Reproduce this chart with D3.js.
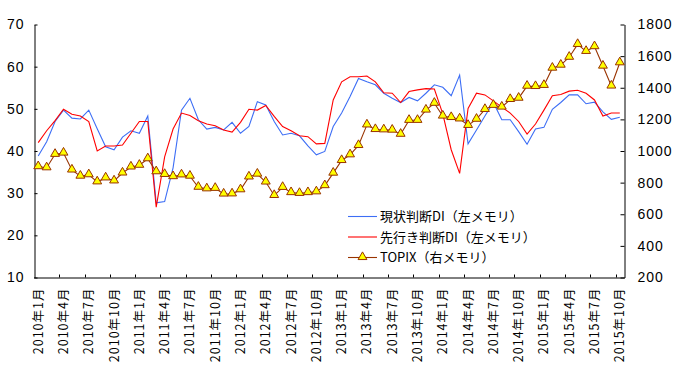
<!DOCTYPE html>
<html>
<head>
<meta charset="utf-8">
<script src="https://cdn.jsdelivr.net/npm/d3@7"></script>
<style>
  body { margin: 0; background: #fff; }
  svg { display: block; font-family: "Noto Sans CJK JP", "Noto Sans", sans-serif; }
  .axis path, .axis line { stroke: #000; }
</style>
</head>
<body>
<svg width="677" height="369"></svg>
<script>
// months, 2010年1月 .. 2015年10月
var months = [
  '2010年1月','2010年2月','2010年3月','2010年4月','2010年5月','2010年6月','2010年7月','2010年8月','2010年9月','2010年10月','2010年11月','2010年12月',
  '2011年1月','2011年2月','2011年3月','2011年4月','2011年5月','2011年6月','2011年7月','2011年8月','2011年9月','2011年10月','2011年11月','2011年12月',
  '2012年1月','2012年2月','2012年3月','2012年4月','2012年5月','2012年6月','2012年7月','2012年8月','2012年9月','2012年10月','2012年11月','2012年12月',
  '2013年1月','2013年2月','2013年3月','2013年4月','2013年5月','2013年6月','2013年7月','2013年8月','2013年9月','2013年10月','2013年11月','2013年12月',
  '2014年1月','2014年2月','2014年3月','2014年4月','2014年5月','2014年6月','2014年7月','2014年8月','2014年9月','2014年10月','2014年11月','2014年12月',
  '2015年1月','2015年2月','2015年3月','2015年4月','2015年5月','2015年6月','2015年7月','2015年8月','2015年9月','2015年10月'
];

// 現状判断DI (left)
var currentDI = [
  38.8, 42.2, 47.0, 49.7, 47.8, 47.6, 49.7, 45.3, 41.0, 40.3, 43.3, 44.8,
  44.2, 48.3, 27.7, 28.0, 36.0, 49.7, 52.5, 47.4, 45.2, 45.6, 45.0, 46.8,
  44.2, 45.8, 51.7, 50.9, 47.0, 43.8, 44.2, 43.6, 41.2, 39.1, 39.9, 45.8,
  49.0, 52.9, 57.2, 56.4, 55.7, 53.7, 52.5, 51.5, 52.7, 51.9, 53.7, 55.7,
  55.1, 53.1, 58.0, 41.7, 45.0, 48.3, 51.5, 47.4, 47.4, 44.6, 41.6, 45.2,
  45.6, 49.9, 51.5, 53.3, 53.3, 51.2, 51.6, 49.3, 47.5, 48.0
];

// 先行き判断DI (left)
var futureDI = [
  42.0, 44.8, 47.2, 49.9, 48.7, 48.3, 47.0, 40.0, 41.2, 41.2, 41.4, 44.2,
  47.0, 47.0, 26.7, 38.6, 45.2, 49.0, 48.4, 47.2, 46.4, 46.0, 45.0, 44.5,
  46.8, 49.9, 49.7, 50.8, 48.2, 45.8, 44.8, 43.6, 43.4, 41.7, 41.8, 52.1,
  56.4, 57.6, 57.6, 57.8, 56.4, 53.8, 53.7, 51.5, 54.1, 54.5, 54.8, 54.7,
  48.8, 40.3, 34.7, 50.1, 53.7, 53.3, 51.9, 50.4, 49.0, 47.0, 44.0, 46.4,
  49.7, 53.1, 53.4, 54.2, 54.4, 53.7, 52.1, 48.3, 49.0, 49.0
];

// TOPIX (right)
var topix = [
  901, 894, 979, 987, 880, 841, 850, 805, 830, 811, 861, 899,
  910, 951, 869, 852, 838, 849, 841, 771, 761, 764, 728, 729,
  755, 836, 854, 804, 719, 770, 737, 732, 737, 742, 781, 860,
  940, 976, 1035, 1165, 1136, 1134, 1132, 1106, 1194, 1194, 1259, 1302,
  1221, 1212, 1203, 1162, 1201, 1263, 1289, 1278, 1326, 1334, 1410, 1408,
  1415, 1524, 1543, 1593, 1674, 1630, 1660, 1537, 1411, 1558
];

var leftTicks = [10, 20, 30, 40, 50, 60, 70];
var rightTicks = [200, 400, 600, 800, 1000, 1200, 1400, 1600, 1800];
var legendLabels = ['現状判断DI（左メモリ）', '先行き判断DI（左メモリ）', 'TOPIX（右メモリ）'];

var svg = d3.select('svg');
var plot = {l: 34, r: 624, t: 24.5, b: 277.5};

var xScale = d3.scaleBand()
    .domain(months)
    .range([plot.l, plot.r])
    .padding(0);
var yLeft = d3.scaleLinear().domain([10, 70]).range([plot.b, plot.t]);
var yRight = d3.scaleLinear().domain([200, 1800]).range([plot.b, plot.t]);

function cx(d, i) { return xScale(months[i]) + xScale.bandwidth() / 2; }

// left axis
var leftAxis = svg.append('g')
    .attr('class', 'axis')
    .attr('transform', 'translate(' + (plot.l + 0.5) + ',0)')
    .call(d3.axisLeft(yLeft).tickValues(leftTicks).tickSizeInner(-3).tickSizeOuter(0).tickPadding(10));
leftAxis.selectAll('text').style('font-size', '14px').style('letter-spacing', '1px').attr('fill', '#000');

// right axis
var rightAxis = svg.append('g')
    .attr('class', 'axis')
    .attr('transform', 'translate(' + (plot.r + 0.5) + ',0)')
    .call(d3.axisRight(yRight).tickValues(rightTicks).tickFormat(d3.format('d'))
        .tickSizeInner(-4).tickSizeOuter(0).tickPadding(13));
rightAxis.selectAll('text').style('font-size', '14px').style('letter-spacing', '1px').attr('fill', '#000');

// bottom axis line + ticks at left edge of every 3rd month
var labelled = months.filter(function(d, i) { return i % 3 === 0; });
svg.append('line')
    .attr('x1', plot.l).attr('x2', plot.r + 1)
    .attr('y1', plot.b + 0.5).attr('y2', plot.b + 0.5)
    .attr('stroke', '#000');
svg.selectAll('.xtick')
    .data(labelled.slice(1))
    .enter()
    .append('line')
    .attr('class', 'xtick')
    .attr('x1', function(d) { return Math.round(xScale(d)) + 0.5; })
    .attr('x2', function(d) { return Math.round(xScale(d)) + 0.5; })
    .attr('y1', plot.b - 3).attr('y2', plot.b)
    .attr('stroke', '#000');

svg.selectAll('.xlabel')
    .data(labelled)
    .enter()
    .append('text')
    .attr('class', 'xlabel')
    .attr('transform', function(d) {
        var x = xScale(d) + xScale.bandwidth() / 2;
        return 'translate(' + [x + 4.5, plot.b + 10] + ') rotate(-90)';
    })
    .attr('text-anchor', 'end')
    .style('font-size', '12.5px')
    .style('letter-spacing', '1px')
    .attr('fill', '#000')
    .text(function(d) { return d; });

// lines
var lineLeft = d3.line()
    .x(cx)
    .y(function(d) { return yLeft(d); });
var lineRight = d3.line()
    .x(cx)
    .y(function(d) { return yRight(d); });

svg.append('path')
    .datum(currentDI)
    .attr('fill', 'none')
    .attr('stroke', '#3d6ef5')
    .attr('stroke-width', 1.1)
    .attr('d', lineLeft);

svg.append('path')
    .datum(futureDI)
    .attr('fill', 'none')
    .attr('stroke', '#ff0000')
    .attr('stroke-width', 1.1)
    .attr('d', lineLeft);

svg.append('path')
    .datum(topix)
    .attr('fill', 'none')
    .attr('stroke', '#993300')
    .attr('stroke-width', 1.1)
    .attr('d', lineRight);

var tri = d3.symbol().type(d3.symbolTriangle).size(34);
svg.selectAll('.tri')
    .data(topix)
    .enter()
    .append('path')
    .attr('class', 'tri')
    .attr('d', tri)
    .attr('transform', function(d, i) { return 'translate(' + [cx(d, i), yRight(d) - 0.5] + ')'; })
    .attr('fill', '#ffff00')
    .attr('stroke', '#993300')
    .attr('stroke-width', 1);

// legend
var legend = svg.append('g').attr('transform', 'translate(348,216.5)');
var legendColors = ['#3d6ef5', '#ff0000', '#993300'];
var rows = legend.selectAll('.row')
    .data(legendLabels)
    .enter()
    .append('g')
    .attr('class', 'row')
    .attr('transform', function(d, i) { return 'translate(0,' + (i * 20.5) + ')'; });
rows.append('line')
    .attr('x1', 0).attr('x2', 29)
    .attr('stroke', function(d, i) { return legendColors[i]; })
    .attr('stroke-width', 1.1);
rows.filter(function(d, i) { return i === 2; })
    .append('path')
    .attr('d', tri)
    .attr('transform', 'translate(14.5,-0.5)')
    .attr('fill', '#ffff00')
    .attr('stroke', '#993300');
rows.append('text')
    .attr('x', 32)
    .attr('dy', '0.36em')
    .style('font-size', '13px')
    .attr('fill', '#000')
    .text(function(d) { return d; });
</script>
</body>
</html>
